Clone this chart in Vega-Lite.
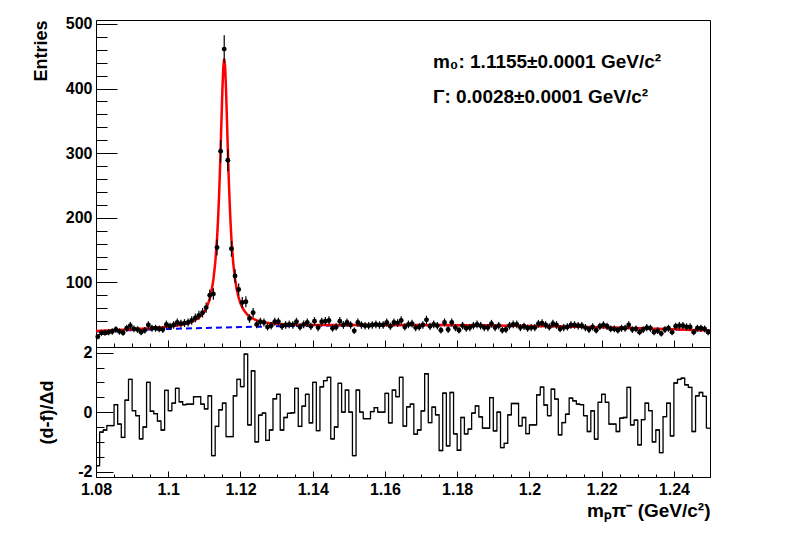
{
"$schema": "https://vega.github.io/schema/vega-lite/v6.json",
"background": "white",
"padding": {"left": 31, "top": 15, "right": 79, "bottom": 10},
"spacing": 0,
"bounds": "flush",
"config": {
  "view": {"stroke": "black", "strokeWidth": 1},
  "axis": {"labelFont": "Liberation Sans", "labelFontWeight": "bold", "labelFontSize": 16, "labelColor": "black",
           "titleFont": "Liberation Sans", "titleFontWeight": "bold", "titleColor": "black",
           "tickColor": "black", "tickWidth": 1, "domain": false, "grid": false, "labelOverlap": false, "labelFlush": false, "labelBound": false}
},
"datasets": {
"bins": [
{"lo":1.080,"hi":1.081,"c":1.0805,"n":16,"e":4.0,"r":-1.8},
{"lo":1.081,"hi":1.082,"c":1.0815,"n":22,"e":4.69,"r":-0.67},
{"lo":1.082,"hi":1.083,"c":1.0825,"n":22,"e":4.69,"r":-0.6},
{"lo":1.083,"hi":1.084,"c":1.0835,"n":23,"e":4.8,"r":-0.45},
{"lo":1.084,"hi":1.085,"c":1.0845,"n":24,"e":4.9,"r":-0.45},
{"lo":1.085,"hi":1.086,"c":1.0855,"n":27,"e":5.2,"r":0.25},
{"lo":1.086,"hi":1.087,"c":1.0865,"n":24,"e":4.9,"r":-0.4},
{"lo":1.087,"hi":1.088,"c":1.0875,"n":22,"e":4.69,"r":-0.85},
{"lo":1.088,"hi":1.089,"c":1.0885,"n":29,"e":5.39,"r":0.4},
{"lo":1.089,"hi":1.090,"c":1.0895,"n":33,"e":5.74,"r":1.1},
{"lo":1.090,"hi":1.091,"c":1.0905,"n":28,"e":5.29,"r":0.05},
{"lo":1.091,"hi":1.092,"c":1.0915,"n":27,"e":5.2,"r":-0.12},
{"lo":1.092,"hi":1.093,"c":1.0925,"n":23,"e":4.8,"r":-0.9},
{"lo":1.093,"hi":1.094,"c":1.0935,"n":26,"e":5.1,"r":-0.5},
{"lo":1.094,"hi":1.095,"c":1.0945,"n":34,"e":5.83,"r":1.0},
{"lo":1.095,"hi":1.096,"c":1.0955,"n":29,"e":5.39,"r":0.03},
{"lo":1.096,"hi":1.097,"c":1.0965,"n":29,"e":5.39,"r":-0.05},
{"lo":1.097,"hi":1.098,"c":1.0975,"n":28,"e":5.29,"r":-0.3},
{"lo":1.098,"hi":1.099,"c":1.0985,"n":27,"e":5.2,"r":-0.6},
{"lo":1.099,"hi":1.100,"c":1.0995,"n":35,"e":5.92,"r":0.73},
{"lo":1.100,"hi":1.101,"c":1.1005,"n":32,"e":5.66,"r":0.05},
{"lo":1.101,"hi":1.102,"c":1.1015,"n":34,"e":5.83,"r":0.3},
{"lo":1.102,"hi":1.103,"c":1.1025,"n":38,"e":6.16,"r":0.8},
{"lo":1.103,"hi":1.104,"c":1.1035,"n":36,"e":6.0,"r":0.35},
{"lo":1.104,"hi":1.105,"c":1.1045,"n":37,"e":6.08,"r":0.25},
{"lo":1.105,"hi":1.106,"c":1.1055,"n":38,"e":6.16,"r":0.27},
{"lo":1.106,"hi":1.107,"c":1.1065,"n":41,"e":6.4,"r":0.27},
{"lo":1.107,"hi":1.108,"c":1.1075,"n":45,"e":6.71,"r":0.52},
{"lo":1.108,"hi":1.109,"c":1.1085,"n":49,"e":7.0,"r":0.52},
{"lo":1.109,"hi":1.110,"c":1.1095,"n":53,"e":7.28,"r":0.27},
{"lo":1.110,"hi":1.111,"c":1.1105,"n":61,"e":7.81,"r":0.11},
{"lo":1.111,"hi":1.112,"c":1.1115,"n":80,"e":8.94,"r":0.55},
{"lo":1.112,"hi":1.113,"c":1.1125,"n":82,"e":9.06,"r":-1.46},
{"lo":1.113,"hi":1.114,"c":1.1135,"n":154,"e":12.41,"r":-0.48},
{"lo":1.114,"hi":1.115,"c":1.1145,"n":303,"e":17.41,"r":0.08},
{"lo":1.115,"hi":1.116,"c":1.1155,"n":461,"e":21.47,"r":0.3},
{"lo":1.116,"hi":1.117,"c":1.1165,"n":289,"e":17.0,"r":-0.82},
{"lo":1.117,"hi":1.118,"c":1.1175,"n":152,"e":12.33,"r":-0.82},
{"lo":1.118,"hi":1.119,"c":1.1185,"n":110,"e":10.49,"r":0.55},
{"lo":1.119,"hi":1.120,"c":1.1195,"n":89,"e":9.43,"r":1.1},
{"lo":1.120,"hi":1.121,"c":1.1205,"n":69,"e":8.31,"r":0.86},
{"lo":1.121,"hi":1.122,"c":1.1215,"n":70,"e":8.37,"r":1.95},
{"lo":1.122,"hi":1.123,"c":1.1225,"n":44,"e":6.63,"r":-0.43},
{"lo":1.123,"hi":1.124,"c":1.1235,"n":53,"e":7.28,"r":1.39},
{"lo":1.124,"hi":1.125,"c":1.1245,"n":35,"e":5.92,"r":-1.0},
{"lo":1.125,"hi":1.126,"c":1.1255,"n":39,"e":6.24,"r":-0.1},
{"lo":1.126,"hi":1.127,"c":1.1265,"n":38,"e":6.16,"r":-0.03},
{"lo":1.127,"hi":1.128,"c":1.1275,"n":31,"e":5.57,"r":-0.95},
{"lo":1.128,"hi":1.129,"c":1.1285,"n":33,"e":5.74,"r":-0.6},
{"lo":1.129,"hi":1.130,"c":1.1295,"n":39,"e":6.24,"r":0.45},
{"lo":1.130,"hi":1.131,"c":1.1305,"n":39,"e":6.24,"r":0.6},
{"lo":1.131,"hi":1.132,"c":1.1315,"n":32,"e":5.66,"r":-0.6},
{"lo":1.132,"hi":1.133,"c":1.1325,"n":34,"e":5.83,"r":-0.18},
{"lo":1.133,"hi":1.134,"c":1.1335,"n":35,"e":5.92,"r":-0.04},
{"lo":1.134,"hi":1.135,"c":1.1345,"n":34,"e":5.83,"r":-0.02},
{"lo":1.135,"hi":1.136,"c":1.1355,"n":39,"e":6.24,"r":0.8},
{"lo":1.136,"hi":1.137,"c":1.1365,"n":31,"e":5.57,"r":-0.48},
{"lo":1.137,"hi":1.138,"c":1.1375,"n":35,"e":5.92,"r":0.2},
{"lo":1.138,"hi":1.139,"c":1.1385,"n":38,"e":6.16,"r":0.6},
{"lo":1.139,"hi":1.140,"c":1.1395,"n":32,"e":5.66,"r":-0.36},
{"lo":1.140,"hi":1.141,"c":1.1405,"n":40,"e":6.32,"r":1.0},
{"lo":1.141,"hi":1.142,"c":1.1415,"n":30,"e":5.48,"r":-0.62},
{"lo":1.142,"hi":1.143,"c":1.1425,"n":39,"e":6.24,"r":0.85},
{"lo":1.143,"hi":1.144,"c":1.1435,"n":40,"e":6.32,"r":1.06},
{"lo":1.144,"hi":1.145,"c":1.1445,"n":41,"e":6.4,"r":1.17},
{"lo":1.145,"hi":1.146,"c":1.1455,"n":29,"e":5.39,"r":-0.9},
{"lo":1.146,"hi":1.147,"c":1.1465,"n":31,"e":5.57,"r":-0.5},
{"lo":1.147,"hi":1.148,"c":1.1475,"n":40,"e":6.32,"r":0.97},
{"lo":1.148,"hi":1.149,"c":1.1485,"n":34,"e":5.83,"r":0.0},
{"lo":1.149,"hi":1.150,"c":1.1495,"n":38,"e":6.16,"r":0.74},
{"lo":1.150,"hi":1.151,"c":1.1505,"n":34,"e":5.83,"r":0.0},
{"lo":1.151,"hi":1.152,"c":1.1515,"n":25,"e":5.0,"r":-1.46},
{"lo":1.152,"hi":1.153,"c":1.1525,"n":38,"e":6.16,"r":0.74},
{"lo":1.153,"hi":1.154,"c":1.1535,"n":34,"e":5.83,"r":0.0},
{"lo":1.154,"hi":1.155,"c":1.1545,"n":33,"e":5.74,"r":-0.22},
{"lo":1.155,"hi":1.156,"c":1.1555,"n":33,"e":5.74,"r":-0.22},
{"lo":1.156,"hi":1.157,"c":1.1565,"n":34,"e":5.83,"r":0.02},
{"lo":1.157,"hi":1.158,"c":1.1575,"n":35,"e":5.92,"r":0.15},
{"lo":1.158,"hi":1.159,"c":1.1585,"n":34,"e":5.83,"r":0.0},
{"lo":1.159,"hi":1.160,"c":1.1595,"n":34,"e":5.83,"r":0.0},
{"lo":1.160,"hi":1.161,"c":1.1605,"n":38,"e":6.16,"r":0.63},
{"lo":1.161,"hi":1.162,"c":1.1615,"n":32,"e":5.66,"r":-0.36},
{"lo":1.162,"hi":1.163,"c":1.1625,"n":38,"e":6.16,"r":0.74},
{"lo":1.163,"hi":1.164,"c":1.1635,"n":37,"e":6.08,"r":0.52},
{"lo":1.164,"hi":1.165,"c":1.1645,"n":41,"e":6.4,"r":1.17},
{"lo":1.165,"hi":1.166,"c":1.1655,"n":31,"e":5.57,"r":-0.47},
{"lo":1.166,"hi":1.167,"c":1.1665,"n":35,"e":5.92,"r":0.18},
{"lo":1.167,"hi":1.168,"c":1.1675,"n":36,"e":6.0,"r":0.27},
{"lo":1.168,"hi":1.169,"c":1.1685,"n":30,"e":5.48,"r":-0.74},
{"lo":1.169,"hi":1.170,"c":1.1695,"n":31,"e":5.57,"r":-0.6},
{"lo":1.170,"hi":1.171,"c":1.1705,"n":34,"e":5.83,"r":0.04},
{"lo":1.171,"hi":1.172,"c":1.1715,"n":42,"e":6.48,"r":1.29},
{"lo":1.172,"hi":1.173,"c":1.1725,"n":32,"e":5.66,"r":-0.35},
{"lo":1.173,"hi":1.174,"c":1.1735,"n":35,"e":5.92,"r":0.17},
{"lo":1.174,"hi":1.175,"c":1.1745,"n":33,"e":5.74,"r":-0.09},
{"lo":1.175,"hi":1.176,"c":1.1755,"n":26,"e":5.1,"r":-1.29},
{"lo":1.176,"hi":1.177,"c":1.1765,"n":38,"e":6.16,"r":0.64},
{"lo":1.177,"hi":1.178,"c":1.1775,"n":27,"e":5.2,"r":-1.13},
{"lo":1.178,"hi":1.179,"c":1.1785,"n":38,"e":6.16,"r":0.66},
{"lo":1.179,"hi":1.180,"c":1.1795,"n":30,"e":5.48,"r":-0.73},
{"lo":1.180,"hi":1.181,"c":1.1805,"n":26,"e":5.1,"r":-1.28},
{"lo":1.181,"hi":1.182,"c":1.1815,"n":33,"e":5.74,"r":-0.18},
{"lo":1.182,"hi":1.183,"c":1.1825,"n":29,"e":5.39,"r":-0.73},
{"lo":1.183,"hi":1.184,"c":1.1835,"n":30,"e":5.48,"r":-0.57},
{"lo":1.184,"hi":1.185,"c":1.1845,"n":33,"e":5.74,"r":-0.03},
{"lo":1.185,"hi":1.186,"c":1.1855,"n":35,"e":5.92,"r":0.21},
{"lo":1.186,"hi":1.187,"c":1.1865,"n":33,"e":5.74,"r":-0.16},
{"lo":1.187,"hi":1.188,"c":1.1875,"n":30,"e":5.48,"r":-0.54},
{"lo":1.188,"hi":1.189,"c":1.1885,"n":30,"e":5.48,"r":-0.54},
{"lo":1.189,"hi":1.190,"c":1.1895,"n":36,"e":6.0,"r":0.49},
{"lo":1.190,"hi":1.191,"c":1.1905,"n":30,"e":5.48,"r":-0.63},
{"lo":1.191,"hi":1.192,"c":1.1915,"n":33,"e":5.74,"r":0.0},
{"lo":1.192,"hi":1.193,"c":1.1925,"n":26,"e":5.1,"r":-1.19},
{"lo":1.193,"hi":1.194,"c":1.1935,"n":27,"e":5.2,"r":-1.05},
{"lo":1.194,"hi":1.195,"c":1.1945,"n":33,"e":5.74,"r":-0.09},
{"lo":1.195,"hi":1.196,"c":1.1955,"n":35,"e":5.92,"r":0.29},
{"lo":1.196,"hi":1.197,"c":1.1965,"n":35,"e":5.92,"r":0.29},
{"lo":1.197,"hi":1.198,"c":1.1975,"n":30,"e":5.48,"r":-0.46},
{"lo":1.198,"hi":1.199,"c":1.1985,"n":32,"e":5.66,"r":-0.18},
{"lo":1.199,"hi":1.200,"c":1.1995,"n":29,"e":5.39,"r":-0.72},
{"lo":1.200,"hi":1.201,"c":1.2005,"n":30,"e":5.48,"r":-0.43},
{"lo":1.201,"hi":1.202,"c":1.2015,"n":30,"e":5.48,"r":-0.43},
{"lo":1.202,"hi":1.203,"c":1.2025,"n":36,"e":6.0,"r":0.58},
{"lo":1.203,"hi":1.204,"c":1.2035,"n":37,"e":6.08,"r":0.84},
{"lo":1.204,"hi":1.205,"c":1.2045,"n":34,"e":5.83,"r":0.24},
{"lo":1.205,"hi":1.206,"c":1.2055,"n":31,"e":5.57,"r":-0.12},
{"lo":1.206,"hi":1.207,"c":1.2065,"n":36,"e":6.0,"r":0.77},
{"lo":1.207,"hi":1.208,"c":1.2075,"n":34,"e":5.83,"r":0.44},
{"lo":1.208,"hi":1.209,"c":1.2085,"n":28,"e":5.29,"r":-0.76},
{"lo":1.209,"hi":1.210,"c":1.2095,"n":30,"e":5.48,"r":-0.35},
{"lo":1.210,"hi":1.211,"c":1.2105,"n":31,"e":5.57,"r":-0.07},
{"lo":1.211,"hi":1.212,"c":1.2115,"n":34,"e":5.83,"r":0.47},
{"lo":1.212,"hi":1.213,"c":1.2125,"n":34,"e":5.83,"r":0.38},
{"lo":1.213,"hi":1.214,"c":1.2135,"n":33,"e":5.74,"r":0.27},
{"lo":1.214,"hi":1.215,"c":1.2145,"n":33,"e":5.74,"r":0.25},
{"lo":1.215,"hi":1.216,"c":1.2155,"n":30,"e":5.48,"r":-0.12},
{"lo":1.216,"hi":1.217,"c":1.2165,"n":27,"e":5.2,"r":-0.65},
{"lo":1.217,"hi":1.218,"c":1.2175,"n":31,"e":5.57,"r":0.04},
{"lo":1.218,"hi":1.219,"c":1.2185,"n":26,"e":5.1,"r":-0.91},
{"lo":1.219,"hi":1.220,"c":1.2195,"n":32,"e":5.66,"r":0.33},
{"lo":1.220,"hi":1.221,"c":1.2205,"n":34,"e":5.83,"r":0.6},
{"lo":1.221,"hi":1.222,"c":1.2215,"n":32,"e":5.66,"r":0.33},
{"lo":1.222,"hi":1.223,"c":1.2225,"n":28,"e":5.29,"r":-0.4},
{"lo":1.223,"hi":1.224,"c":1.2235,"n":28,"e":5.29,"r":-0.4},
{"lo":1.224,"hi":1.225,"c":1.2245,"n":26,"e":5.1,"r":-0.65},
{"lo":1.225,"hi":1.226,"c":1.2255,"n":29,"e":5.39,"r":-0.2},
{"lo":1.226,"hi":1.227,"c":1.2265,"n":29,"e":5.39,"r":-0.18},
{"lo":1.227,"hi":1.228,"c":1.2275,"n":34,"e":5.83,"r":0.83},
{"lo":1.228,"hi":1.229,"c":1.2285,"n":27,"e":5.2,"r":-0.43},
{"lo":1.229,"hi":1.230,"c":1.2295,"n":28,"e":5.29,"r":-0.27},
{"lo":1.230,"hi":1.231,"c":1.2305,"n":23,"e":4.8,"r":-1.1},
{"lo":1.231,"hi":1.232,"c":1.2315,"n":27,"e":5.2,"r":-0.25},
{"lo":1.232,"hi":1.233,"c":1.2325,"n":30,"e":5.48,"r":0.3},
{"lo":1.233,"hi":1.234,"c":1.2335,"n":29,"e":5.39,"r":0.05},
{"lo":1.234,"hi":1.235,"c":1.2345,"n":23,"e":4.8,"r":-1.0},
{"lo":1.235,"hi":1.236,"c":1.2355,"n":25,"e":5.0,"r":-0.6},
{"lo":1.236,"hi":1.237,"c":1.2365,"n":21,"e":4.58,"r":-1.36},
{"lo":1.237,"hi":1.238,"c":1.2375,"n":27,"e":5.2,"r":-0.15},
{"lo":1.238,"hi":1.239,"c":1.2385,"n":29,"e":5.39,"r":0.3},
{"lo":1.239,"hi":1.240,"c":1.2395,"n":23,"e":4.8,"r":-0.8},
{"lo":1.240,"hi":1.241,"c":1.2405,"n":32,"e":5.66,"r":0.98},
{"lo":1.241,"hi":1.242,"c":1.2415,"n":33,"e":5.74,"r":1.1},
{"lo":1.242,"hi":1.243,"c":1.2425,"n":33,"e":5.74,"r":1.14},
{"lo":1.243,"hi":1.244,"c":1.2435,"n":31,"e":5.57,"r":0.92},
{"lo":1.244,"hi":1.245,"c":1.2445,"n":31,"e":5.57,"r":0.83},
{"lo":1.245,"hi":1.246,"c":1.2455,"n":23,"e":4.8,"r":-0.65},
{"lo":1.246,"hi":1.247,"c":1.2465,"n":29,"e":5.39,"r":0.55},
{"lo":1.247,"hi":1.248,"c":1.2475,"n":29,"e":5.39,"r":0.66},
{"lo":1.248,"hi":1.249,"c":1.2485,"n":28,"e":5.29,"r":0.53},
{"lo":1.249,"hi":1.250,"c":1.2495,"n":23,"e":4.8,"r":-0.54}
],
"fit": [
{"c":1.080,"f":24.65},{"c":1.085,"f":25.96},{"c":1.090,"f":27.35},{"c":1.095,"f":28.98},{"c":1.100,"f":31.31},
{"c":1.1025,"f":33.13},{"c":1.105,"f":36.04},{"c":1.1065,"f":38.83},{"c":1.108,"f":43.23},{"c":1.109,"f":47.82},
{"c":1.110,"f":54.85},{"c":1.1105,"f":59.84},{"c":1.111,"f":66.4},{"c":1.1115,"f":75.15},{"c":1.112,"f":87.2},
{"c":1.1125,"f":104.27},{"c":1.113,"f":129.25},{"c":1.1135,"f":166.82},{"c":1.11375,"f":192.4},{"c":1.114,"f":223.79},
{"c":1.11425,"f":261.6},{"c":1.1145,"f":305.66},{"c":1.11475,"f":353.4},{"c":1.115,"f":399.1},{"c":1.11525,"f":433.4},
{"c":1.1155,"f":446.3},{"c":1.11575,"f":433.4},{"c":1.116,"f":399.27},{"c":1.11625,"f":353.6},{"c":1.1165,"f":305.93},
{"c":1.11675,"f":262.0},{"c":1.117,"f":224.2},{"c":1.11725,"f":192.8},{"c":1.1175,"f":167.36},{"c":1.118,"f":129.92},
{"c":1.1185,"f":105.07},{"c":1.119,"f":88.12},{"c":1.1195,"f":76.21},{"c":1.120,"f":67.59},{"c":1.1205,"f":61.17},
{"c":1.121,"f":56.31},{"c":1.122,"f":49.54},{"c":1.123,"f":45.22},{"c":1.1245,"f":41.22},{"c":1.126,"f":38.82},
{"c":1.1285,"f":36.58},{"c":1.131,"f":35.42},{"c":1.135,"f":34.53},{"c":1.140,"f":34.14},{"c":1.145,"f":34.05},
{"c":1.150,"f":34.05},{"c":1.155,"f":34.09},{"c":1.160,"f":34.11},{"c":1.165,"f":34.10},{"c":1.170,"f":34.05},
{"c":1.175,"f":33.95},{"c":1.180,"f":33.79},{"c":1.185,"f":33.59},{"c":1.190,"f":33.31},{"c":1.195,"f":32.99},
{"c":1.200,"f":32.60},{"c":1.205,"f":32.16},{"c":1.210,"f":31.65},{"c":1.215,"f":31.08},{"c":1.220,"f":30.45},
{"c":1.225,"f":29.76},{"c":1.230,"f":29.01},{"c":1.235,"f":28.18},{"c":1.240,"f":27.31},{"c":1.245,"f":26.36},
{"c":1.250,"f":25.35}
],
"bkg": [
{"c":1.08,"b":24.0},{"c":1.09,"b":26.1},{"c":1.10,"b":27.94},{"c":1.11,"b":29.53},{"c":1.12,"b":30.87},
{"c":1.13,"b":31.96},{"c":1.14,"b":32.79},{"c":1.15,"b":33.37},{"c":1.16,"b":33.70},{"c":1.17,"b":33.78},
{"c":1.18,"b":33.60},{"c":1.19,"b":33.17},{"c":1.20,"b":32.49},{"c":1.21,"b":31.56},{"c":1.22,"b":30.37},
{"c":1.23,"b":28.94},{"c":1.24,"b":27.25},{"c":1.25,"b":25.30}
],
"notes": [
{"label": "m₀: 1.1155±0.0001 GeV/c²"}
],
"notes2": [
{"label": "Γ: 0.0028±0.0001 GeV/c²"}
]
},
"vconcat": [
{
  "width": 614, "height": 327,
  "resolve": {"axis": {"x": "independent", "y": "independent"}},
  "layer": [
    {"data": {"name": "bkg"},
     "mark": {"type": "line", "color": "#0000ff", "strokeWidth": 2, "strokeDash": [6, 4]},
     "encoding": {
       "x": {"field": "c", "type": "quantitative", "scale": {"domain": [1.08, 1.25], "nice": false, "zero": false},
             "axis": {"orient": "bottom", "values": [1.08,1.1,1.12,1.14,1.16,1.18,1.2,1.22,1.24], "labels": false, "title": null, "tickSize": -7}},
       "y": {"field": "b", "type": "quantitative", "scale": {"domain": [0, 506], "nice": false, "zero": false},
             "axis": {"orient": "left", "values": [100,200,300,400,500], "tickSize": -21, "labelPadding": 25,
                      "title": "Entries", "titleFontSize": 18, "titleAngle": 270, "titleX": -55, "titleY": 0,
                      "titleAlign": "right", "titleBaseline": "middle"}}}},
    {"data": {"name": "fit"},
     "mark": {"type": "line", "color": "#ff0000", "strokeWidth": 2.5},
     "encoding": {
       "x": {"field": "c", "type": "quantitative",
             "axis": {"orient": "bottom", "values": [1.085,1.09,1.095,1.105,1.11,1.115,1.125,1.13,1.135,1.145,1.15,1.155,1.165,1.17,1.175,1.185,1.19,1.195,1.205,1.21,1.215,1.225,1.23,1.235,1.245,1.25],
                      "labels": false, "title": null, "tickSize": -4}},
       "y": {"field": "f", "type": "quantitative",
             "axis": {"orient": "left", "values": [20,40,60,80,120,140,160,180,220,240,260,280,320,340,360,380,420,440,460,480],
                      "labels": false, "title": null, "tickSize": -11}}}},
    {"data": {"name": "bins"},
     "mark": {"type": "errorbar", "color": "black", "thickness": 1.2},
     "encoding": {"x": {"field": "c", "type": "quantitative", "axis": null},
                  "y": {"field": "n", "type": "quantitative", "axis": null}, "yError": {"field": "e"}}},
    {"data": {"name": "bins"},
     "mark": {"type": "point", "filled": true, "shape": "circle", "size": 24, "color": "black", "opacity": 1},
     "encoding": {"x": {"field": "c", "type": "quantitative", "axis": null},
                  "y": {"field": "n", "type": "quantitative", "axis": null}}},
    {"data": {"name": "notes"},
     "mark": {"type": "text", "align": "left", "baseline": "bottom", "font": "Liberation Sans", "fontWeight": "bold", "fontSize": 19, "fill": "black"},
     "encoding": {"x": {"datum": 1.1733, "type": "quantitative", "axis": null},
                  "y": {"datum": 425, "type": "quantitative", "axis": null},
                  "text": {"field": "label", "type": "nominal"}}},
    {"data": {"name": "notes2"},
     "mark": {"type": "text", "align": "left", "baseline": "bottom", "font": "Liberation Sans", "fontWeight": "bold", "fontSize": 19, "fill": "black"},
     "encoding": {"x": {"datum": 1.1733, "type": "quantitative", "axis": null},
                  "y": {"datum": 371, "type": "quantitative", "axis": null},
                  "text": {"field": "label", "type": "nominal"}}}
  ]
},
{
  "width": 614, "height": 130,
  "resolve": {"axis": {"x": "independent", "y": "independent"}},
  "data": {"name": "bins"},
  "encoding": {
    "x": {"field": "lo", "type": "quantitative", "scale": {"domain": [1.08, 1.25], "nice": false, "zero": false}, "axis": null},
    "y": {"field": "r", "type": "quantitative", "scale": {"domain": [-2.18, 2.19], "nice": false, "zero": false}, "axis": null}
  },
  "layer": [
    {"mark": {"type": "line", "interpolate": "step-after", "color": "black", "strokeWidth": 1.3},
     "encoding": {
       "x": {"field": "lo", "type": "quantitative",
             "axis": {"orient": "bottom", "values": [1.08,1.1,1.12,1.14,1.16,1.18,1.2,1.22,1.24],
                      "labelExpr": "format(datum.value, '.2~f')", "tickSize": -6, "labelPadding": 10,
                      "title": "mₚπ⁻ (GeV/c²)", "titleFontSize": 19, "titleX": 614, "titleY": 33,
                      "titleAlign": "right", "titleBaseline": "middle"}},
       "y": {"field": "r", "type": "quantitative",
             "axis": {"orient": "left", "values": [-2, 0, 2],
                      "labelExpr": "datum.value == 2 ? '2' : datum.value == 0 ? '0' : '-2'",
                      "tickSize": -17, "labelPadding": 21,
                      "title": "(d-f)/Δd", "titleFontSize": 18, "titleAngle": 270, "titleX": -49, "titleY": 65,
                      "titleAlign": "center", "titleBaseline": "middle"}}}},
    {"mark": {"type": "rule", "color": "black", "strokeWidth": 1.3},
     "encoding": {
       "x": {"field": "lo", "type": "quantitative",
             "axis": {"orient": "bottom", "values": [1.085,1.09,1.095,1.105,1.11,1.115,1.125,1.13,1.135,1.145,1.15,1.155,1.165,1.17,1.175,1.185,1.19,1.195,1.205,1.21,1.215,1.225,1.23,1.235,1.245,1.25],
                      "labels": false, "title": null, "tickSize": -3}},
       "x2": {"field": "hi"},
       "y": {"field": "r", "type": "quantitative",
             "axis": {"orient": "left", "values": [-1.5, -1, -0.5, 0.5, 1, 1.5], "labels": false, "title": null, "tickSize": -8}}}},
    {"data": {"values": [{}]},
     "mark": {"type": "rule", "color": "#ff0000", "strokeWidth": 1.5},
     "encoding": {"x": {"datum": 1.08, "axis": null}, "x2": {"datum": 1.25}, "y": {"datum": 0, "axis": null}}}
  ]
}
]
}
